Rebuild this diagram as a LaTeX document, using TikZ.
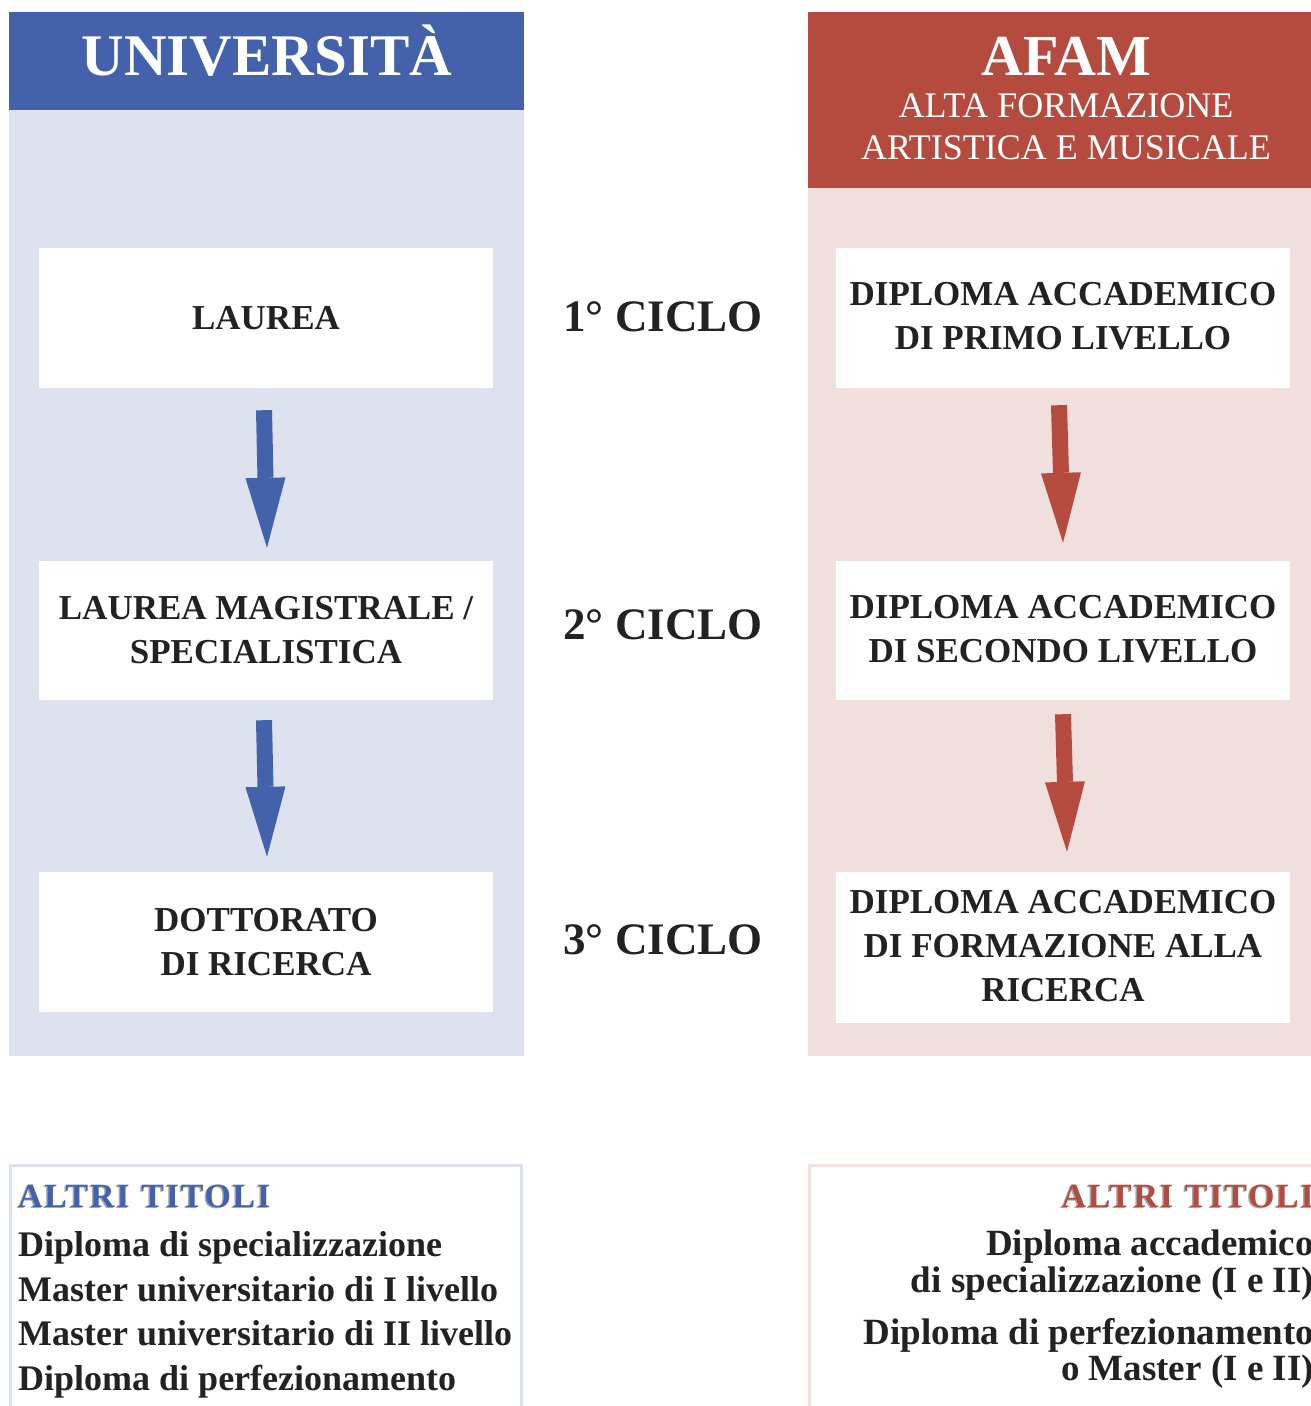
\documentclass[tikz,border=0pt]{standalone}
\usepackage{fontspec}
\setmainfont{Liberation Serif}
\usetikzlibrary{arrows.meta,calc}
\definecolor{uniblue}{HTML}{4461AB}
\definecolor{unipale}{HTML}{DEE2EF}
\definecolor{afamred}{HTML}{B54B3F}
\definecolor{afampale}{HTML}{F0DFDD}
\definecolor{ink}{HTML}{222222}
\definecolor{unibord}{HTML}{DDE1EF}
\definecolor{afambord}{HTML}{F2E1DF}
\tikzset{
  boxnode/.style={fill=white, draw=none, minimum width=454pt, inner sep=0pt, align=center, text=ink,
    font=\fontsize{35}{44}\selectfont\bfseries},
  ciclo/.style={anchor=base, text=ink, inner sep=0pt, font=\fontsize{45}{50}\selectfont\bfseries},
  bigarrow/.style={draw=#1, line width=16pt, -{Triangle[width=40pt,length=70pt,line width=0pt,fill=#1]}},
  listline/.style={inner sep=0pt, text=ink, font=\fontsize{37}{44}\selectfont\bfseries},
  altri/.style={inner sep=0pt, font=\fontsize{34}{40}\selectfont\bfseries\addfontfeature{LetterSpace=5}},
}
\begin{document}
\begin{tikzpicture}[x=1pt,y=-1pt]
\useasboundingbox (0,0) rectangle (1311,1406);
\clip (0,0) rectangle (1311,1406);
% panels
\fill[unipale] (9,110) rectangle (524,1056);
\fill[uniblue] (9,12) rectangle (524,110);
\fill[afampale] (808,188) rectangle (1330,1056);
\fill[afamred] (808,12) rectangle (1330,188);
% headers
\node[anchor=base, inner sep=0pt, text=white, font=\fontsize{59}{60}\selectfont\bfseries] (unihead) at (267,75) {UNIVERSITÀ};
\node[anchor=base, inner sep=0pt, text=white, font=\fontsize{58}{60}\selectfont\bfseries] (afamhead) at (1066,75) {AFAM};
\node[anchor=base, inner sep=0pt, text=white, font=\fontsize{36}{40}\selectfont] (afamsub1) at (1066,117) {ALTA FORMAZIONE};
\node[anchor=base, inner sep=0pt, text=white, font=\fontsize{36}{40}\selectfont] (afamsub2) at (1066,159) {ARTISTICA E MUSICALE};
% boxes
\node[boxnode, minimum height=140pt] (uni1) at (266,318) {LAUREA};
\node[boxnode, minimum height=139pt] (uni2) at (266,630.5) {LAUREA MAGISTRALE /\\SPECIALISTICA};
\node[boxnode, minimum height=140pt] (uni3) at (266,942) {DOTTORATO\\DI RICERCA};
\node[boxnode, minimum height=140pt] (afam1) at (1063,318) {DIPLOMA ACCADEMICO\\DI PRIMO LIVELLO\rule[-4pt]{0pt}{1pt}};
\node[boxnode, minimum height=139pt] (afam2) at (1063,630.5) {DIPLOMA ACCADEMICO\\DI SECONDO LIVELLO\rule[-3pt]{0pt}{1pt}};
\node[boxnode, minimum height=151pt] (afam3) at (1063,947.5) {DIPLOMA ACCADEMICO\\DI FORMAZIONE ALLA\\RICERCA\rule[-4pt]{0pt}{1pt}};
% cycles
\node[ciclo] (c1) at (663,331) {1° CICLO};
\node[ciclo] (c2) at (663,639) {2° CICLO};
\node[ciclo] (c3) at (663,954) {3° CICLO};
% arrows
\draw[bigarrow=uniblue] ($(uni1.south)+(-2,22)$) -- ($(uni2.north)+(1,-13)$);
\draw[bigarrow=uniblue] ($(uni2.south)+(-2,20)$) -- ($(uni3.north)+(1,-15)$);
\draw[bigarrow=afamred] ($(afam1.south)+(-4,17)$) -- ($(afam2.north)+(0,-18)$);
\draw[bigarrow=afamred] ($(afam2.south)+(0,14)$) -- ($(afam3.north)+(4,-20)$);
% other titles boxes
\draw[unibord, line width=3pt] (10.5,1165.5) rectangle (521,1430);
\draw[afambord, line width=3pt] (809.5,1165.5) rectangle (1340,1430);
% left list
\node[altri, anchor=base west, text=gray!70] (altriLs) at (16.5,1208.5) {ALTRI\hspace{0.35em}TITOLI};
\node[altri, anchor=base west, text=uniblue] (altriL) at (18,1207) {ALTRI\hspace{0.35em}TITOLI};
\node[listline, anchor=base west, font=\fontsize{36}{44}\selectfont\bfseries] (l1) at (18,1256) {Diploma di specializzazione};
\node[listline, anchor=base west, font=\fontsize{36}{44}\selectfont\bfseries] (l2) at (18,1301) {Master universitario di I livello};
\node[listline, anchor=base west, font=\fontsize{36}{44}\selectfont\bfseries] (l3) at (18,1345) {Master universitario di II livello};
\node[listline, anchor=base west, font=\fontsize{36}{44}\selectfont\bfseries] (l4) at (18,1390) {Diploma di perfezionamento};
% right list
\node[altri, anchor=base east, text=gray!70] (altriRs) at (1312.5,1208.5) {ALTRI\hspace{0.35em}TITOLI};
\node[altri, anchor=base east, text=afamred] (altriR) at (1314,1207) {ALTRI\hspace{0.35em}TITOLI};
\node[listline, anchor=base east] (r1) at (1314,1255) {Diploma accademico};
\node[listline, anchor=base east] (r2) at (1314,1292) {di specializzazione (I e II)};
\node[listline, anchor=base east] (r3) at (1314,1344) {Diploma di perfezionamento};
\node[listline, anchor=base east] (r4) at (1314,1380) {o Master (I e II)};
\end{tikzpicture}
\end{document}
